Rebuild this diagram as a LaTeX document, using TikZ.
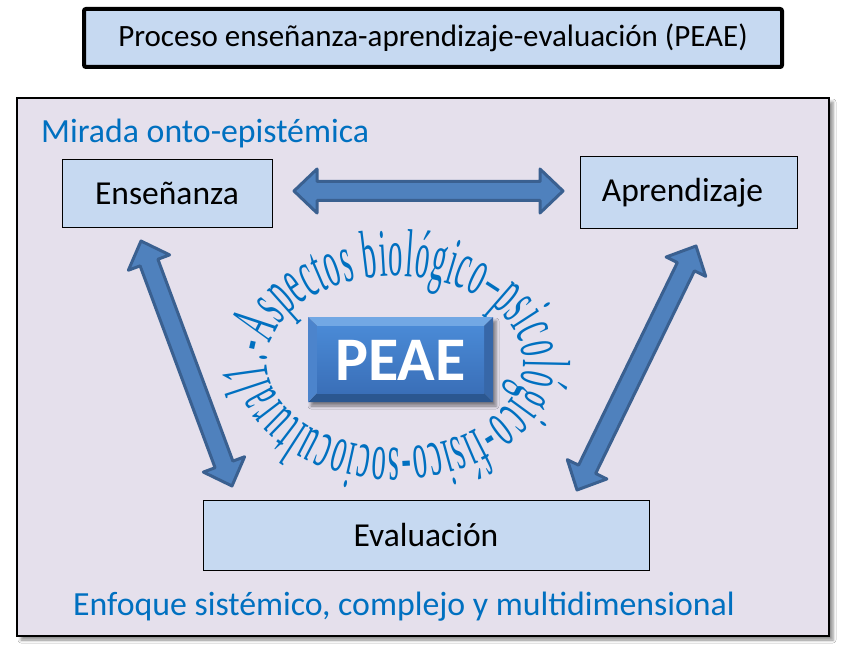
\documentclass[tikz,border=0pt]{standalone}
\usepackage{fontspec}
\setmainfont{Carlito}
\newfontfamily\arcfont{Liberation Serif}[FakeStretch=0.42]
\usetikzlibrary{decorations.text,shadows.blur,calc}
\definecolor{boxblue}{HTML}{C6D9F1}
\definecolor{framefill}{HTML}{E5E0EC}
\definecolor{wordblue}{HTML}{0070C0}
\definecolor{arrowfill}{HTML}{4F81BD}
\definecolor{arrowline}{HTML}{3A6090}
\definecolor{bevtop}{HTML}{72A8E4}
\definecolor{bevbot}{HTML}{2B5790}
\definecolor{bevleft}{HTML}{4C84CC}
\definecolor{bevright}{HTML}{3767A8}
\definecolor{facetop}{HTML}{4A8AD6}
\definecolor{facebot}{HTML}{3A6FB8}
\tikzset{
  titlebox/.style={draw=black, line width=4pt, rounded corners=2pt, fill=boxblue,
    minimum width=698, minimum height=58, inner sep=0pt, font=\fontsize{31}{36}\selectfont},
  framebox/.style={draw=black, line width=1.5pt, fill=framefill, minimum width=812, minimum height=538, inner sep=0pt,
    blur shadow={shadow xshift=4pt, shadow yshift=-4pt, shadow blur radius=3pt, shadow opacity=45}},
  conceptbox/.style={draw=black, line width=1pt, fill=boxblue, inner sep=0pt, font=\fontsize{33.5}{40}\selectfont},
  bluetext/.style={text=wordblue, inner sep=0pt, font=\fontsize{33.8}{40}\selectfont},
  blockarrowstyle/.style={fill=arrowfill, draw=arrowline, line width=3pt, line join=round},
}
\newcommand\blockarrow[2]{%
  \path let \p1=(#1), \p2=(#2) in \pgfextra{%
    \pgfmathsetmacro\baangtmp{atan2(\y2-\y1,\x2-\x1)}%
    \pgfmathsetmacro\balentmp{veclen(\x2-\x1,\y2-\y1)}%
    \xdef\baang{\baangtmp}\xdef\balen{\balentmp}%
    \xdef\bax{\x1}\xdef\bay{\y1}};
  \draw[blockarrowstyle, shift={(\bax,\bay)}, rotate=\baang]
    (0,0) -- (23,22) -- (23,9.5) -- (\balen-23,9.5) -- (\balen-23,22) -- (\balen,0)
    -- (\balen-23,-22) -- (\balen-23,-9.5) -- (23,-9.5) -- (23,-22) -- cycle;
}
\begin{document}
\begin{tikzpicture}[x=1pt,y=-1pt]
\useasboundingbox (0,0) rectangle (843,647);
\fill[white] (0,0) rectangle (843,647);

% title
\node[titlebox] (title) at (433,38) {\raisebox{-2pt}{Proceso enseñanza-aprendizaje-evaluación (PEAE)}};

% frame
\node[framebox] (frame) at (423,367) {};

\node[bluetext, anchor=base west] (mirada) at (41,143) {Mirada onto-epistémica};
\node[bluetext, anchor=base] (enfoque) at (404,615) {Enfoque sistémico, complejo y multidimensional};

% concept boxes
\node[conceptbox, minimum width=210, minimum height=67] (ens) at (167,193.5) {Enseñanza};
\node[conceptbox, minimum width=217, minimum height=71] (apr) at (688.5,192.5) {\hspace*{-12pt}Aprendizaje};
\node[conceptbox, minimum width=446, minimum height=70] (eva) at (426,535) {Evaluación};

% arrows
\coordinate (h1) at (294,191);
\coordinate (h2) at (563,191);
\coordinate (l1) at (141,241);
\coordinate (l2) at (232,486);
\coordinate (r1) at (696,246);
\coordinate (r2) at (577,490);
\blockarrow{h1}{h2}
\blockarrow{l1}{l2}
\blockarrow{r1}{r2}

% circular text
\path[decorate, decoration={text along path, text align=fit to path, text color=wordblue,
  text={|\arcfont\fontsize{68}{68}\selectfont|1.-Aspectos biológico–psicológico-físico-sociocultural}}]
  (395,362) ++(170:128 and 86) arc[start angle=170, end angle=530, x radius=128, y radius=86];

% PEAE bevelled box
\path[blur shadow={shadow xshift=3pt, shadow yshift=-4pt, shadow blur radius=3pt, shadow opacity=45}]
  (308,317) rectangle (493,402);
\fill[bevtop] (308,317) -- (493,317) -- (484,326) -- (317,326) -- cycle;
\fill[bevbot] (308,402) -- (493,402) -- (484,393) -- (317,393) -- cycle;
\fill[bevleft] (308,317) -- (317,326) -- (317,393) -- (308,402) -- cycle;
\fill[bevright] (493,317) -- (484,326) -- (484,393) -- (493,402) -- cycle;
\shade[top color=facetop, bottom color=facebot] (317,326) rectangle (484,393);
\node[text=white, inner sep=0pt, font=\bfseries\fontsize{62}{62}\selectfont] (peae) at (400.5,360) {PEAE};
\end{tikzpicture}
\end{document}
